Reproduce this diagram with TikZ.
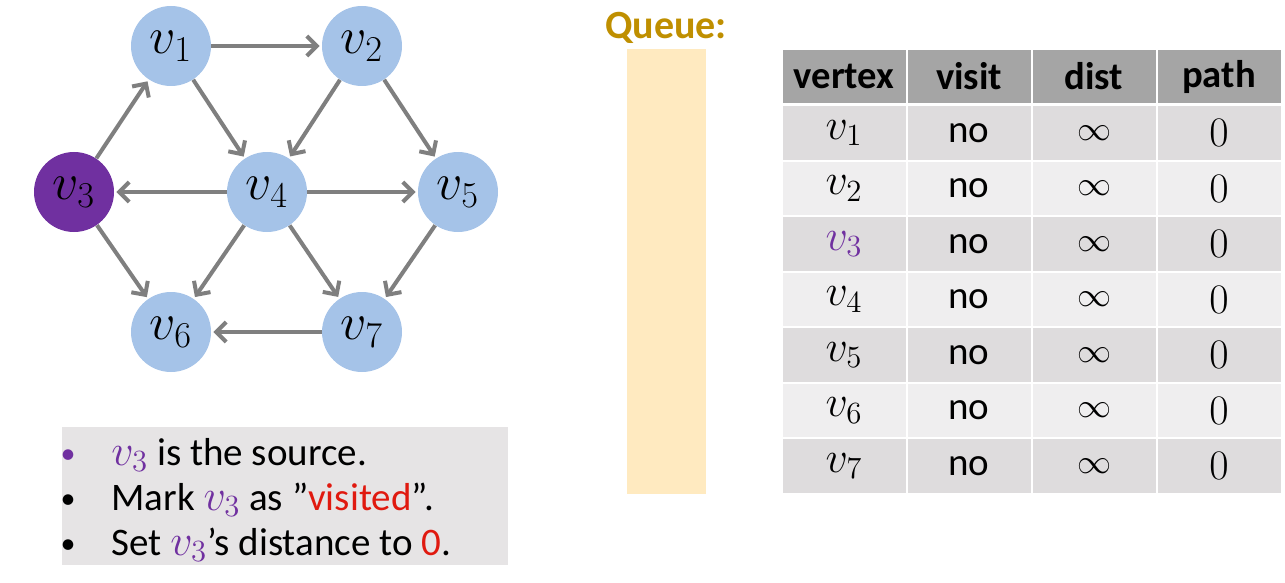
\RequirePackage{fix-cm}
\documentclass[tikz,border=0pt]{standalone}
\usepackage{fontspec}
\setmainfont{Carlito}
\usepackage{tikz}
\usetikzlibrary{arrows.meta,positioning}
\definecolor{bfsblue}{HTML}{A5C3E8}
\definecolor{bfspurple}{HTML}{7030A0}
\definecolor{bfsgray}{HTML}{7F7F7F}
\definecolor{bfsnote}{HTML}{E6E4E5}
\definecolor{bfsred}{HTML}{E0190F}
\definecolor{bfsgold}{HTML}{BF8F00}
\definecolor{bfsqueue}{HTML}{FFEAC0}
\definecolor{bfshead}{HTML}{A5A5A5}
\definecolor{bfsdark}{HTML}{DEDCDD}
\definecolor{bfslight}{HTML}{EFEEEF}
\newcommand{\srcv}{{\fontsize{22}{25}\selectfont$\color{bfspurple}v_3$}}

\begin{document}
\begin{tikzpicture}[
    x=0.5pt, y=-0.5pt,
    every node/.style={font=\fontsize{19.5}{23}\selectfont},
    vert/.style={circle, fill=bfsblue, minimum size=40pt, inner sep=0pt, font=\fontsize{26}{30}\selectfont},
    source/.style={vert, fill=bfspurple},
    arr/.style={-{Straight Barb[length=5pt, width=10pt]}, line width=2pt, draw=bfsgray, shorten >=1pt},
    cell/.style={rectangle, minimum width=61.5pt, minimum height=26.75pt, inner sep=0pt},
    head/.style={cell, fill=bfshead, minimum height=26.5pt, font=\fontsize{19.3}{23}\selectfont\bfseries},
    dot/.style={anchor=base, inner sep=0pt, font=\fontsize{15}{18}\selectfont}
]
    \useasboundingbox (0,0) rectangle (1285,583);

    % Graph
    \node (v1) [vert] at (171,46) {$v_1$};
    \node (v2) [vert] at (362,46) {$v_2$};
    \node (v3) [source] at (74,192) {$v_3$};
    \node (v4) [vert] at (267,192) {$v_4$};
    \node (v5) [vert] at (458,192) {$v_5$};
    \node (v6) [vert] at (171,332) {$v_6$};
    \node (v7) [vert] at (362,332) {$v_7$};

    \draw [arr] (v1) -- (v2);
    \draw [arr] (v3) -- (v1);
    \draw [arr] (v1) -- (v4);
    \draw [arr] (v2) -- (v4);
    \draw [arr] (v2) -- (v5);
    \draw [arr] (v4) -- (v3);
    \draw [arr] (v4) -- (v5);
    \draw [arr] (v3) -- (v6);
    \draw [arr] (v4) -- (v6);
    \draw [arr] (v4) -- (v7);
    \draw [arr] (v5) -- (v7);
    \draw [arr] (v7) -- (v6);

    % Notes
    \node (notes) [rectangle, fill=bfsnote, minimum width=223pt, minimum height=69pt, inner sep=0pt, anchor=north west] at (62,427) {};
    \node (dot1) [dot, text=bfspurple] at (68,463) {•};
    \node (dot2) [dot] at (68,508) {•};
    \node (dot3) [dot] at (68,553) {•};
    \node (line1) [anchor=base west, inner sep=0pt] at (111,465) {\srcv{} is the source.};
    \node (line2) [anchor=base west, inner sep=0pt] at (111,510) {Mark \srcv{} as ”\textcolor{bfsred}{visited}”.};
    \node (line3) [anchor=base west, inner sep=0pt] at (111,555) {Set \srcv’s distance to \textcolor{bfsred}{0}.};

    % Queue
    \node (qlabel) [text=bfsgold, font=\fontsize{20}{24}\selectfont\bfseries] at (666,28) {Queue:};
    \node (queue) [rectangle, fill=bfsqueue, minimum width=39.5pt, minimum height=222.5pt, inner sep=0pt, anchor=north west] at (627,49) {};

    % Table
    \foreach \lbl [count=\c] in {vertex,visit,dist,path}
        \node (h\c) [head] at ({844+125*(\c-1)},76.5) {\lbl};
    \foreach \r in {1,...,7}{
        \ifodd\r \def\rowcol{bfsdark}\else\def\rowcol{bfslight}\fi
        \node (r\r c1) [cell, fill=\rowcol, font=\fontsize{22}{25}\selectfont] at (844,{133+55.5*(\r-1)}) {$\ifnum\r=3 \color{bfspurple}\fi v_{\r}$};
        \node (r\r c2) [cell, fill=\rowcol] at (969,{133+55.5*(\r-1)}) {no};
        \node (r\r c3) [cell, fill=\rowcol, font=\fontsize{17}{20}\selectfont] at (1094,{133+55.5*(\r-1)}) {$\infty$};
        \node (r\r c4) [cell, fill=\rowcol, font=\fontsize{21}{25}\selectfont] at (1219,{133+55.5*(\r-1)}) {$0$};
    }
\end{tikzpicture}
\end{document}
